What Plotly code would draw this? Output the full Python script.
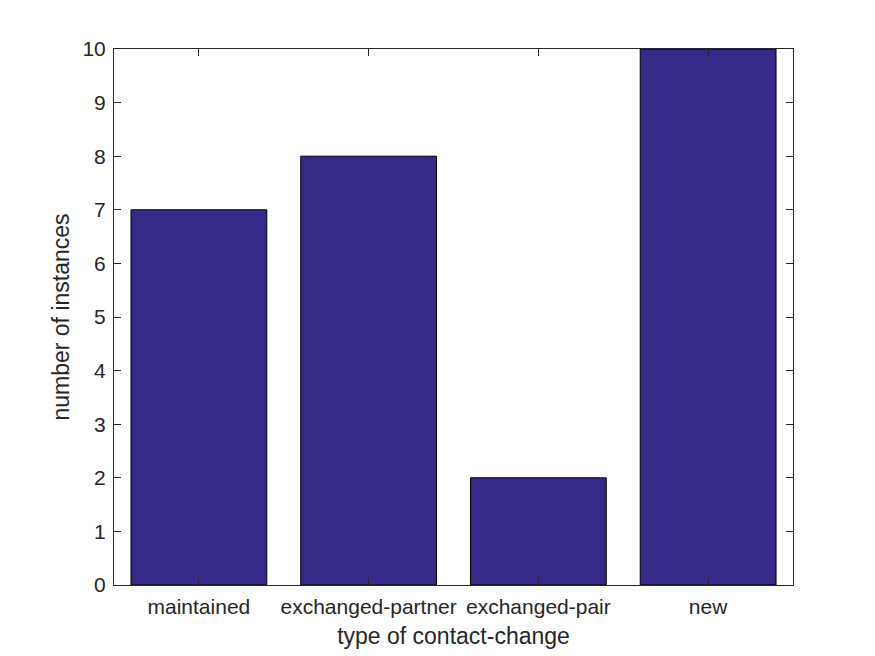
import plotly.graph_objects as go

categories = ["maintained", "exchanged-partner", "exchanged-pair", "new"]
counts = [7, 8, 2, 10]
positions = [1, 2, 3, 4]

FONT = "Liberation Sans, Arial, Helvetica, sans-serif"

fig = go.Figure()
fig.add_trace(go.Bar(
    x=positions, y=counts, width=0.8,
    marker=dict(color="#352A87", line=dict(color="black", width=1)),
))

axis_common = dict(
    showline=True, linecolor="#262626", linewidth=1, mirror="ticks",
    ticks="inside", ticklen=7, tickcolor="#262626", tickwidth=1,
    showgrid=False, zeroline=False,
    tickfont=dict(family=FONT, size=21, color="#262626"),
    title_font=dict(family=FONT, size=23, color="#262626"),
)

fig.update_layout(
    width=867, height=648,
    margin=dict(l=106, r=82, t=41, b=71),
    plot_bgcolor="white", paper_bgcolor="white",
    showlegend=False,
    xaxis=dict(range=[0.5, 4.5], tickvals=positions, ticktext=categories,
               ticklabelstandoff=3,
               title=dict(text="type of contact-change", standoff=10), **axis_common),
    yaxis=dict(range=[0, 10], dtick=1, tick0=0, ticklabelstandoff=3,
               title=dict(text="number of instances", standoff=6), **axis_common),
)

fig.write_html("out.html")
